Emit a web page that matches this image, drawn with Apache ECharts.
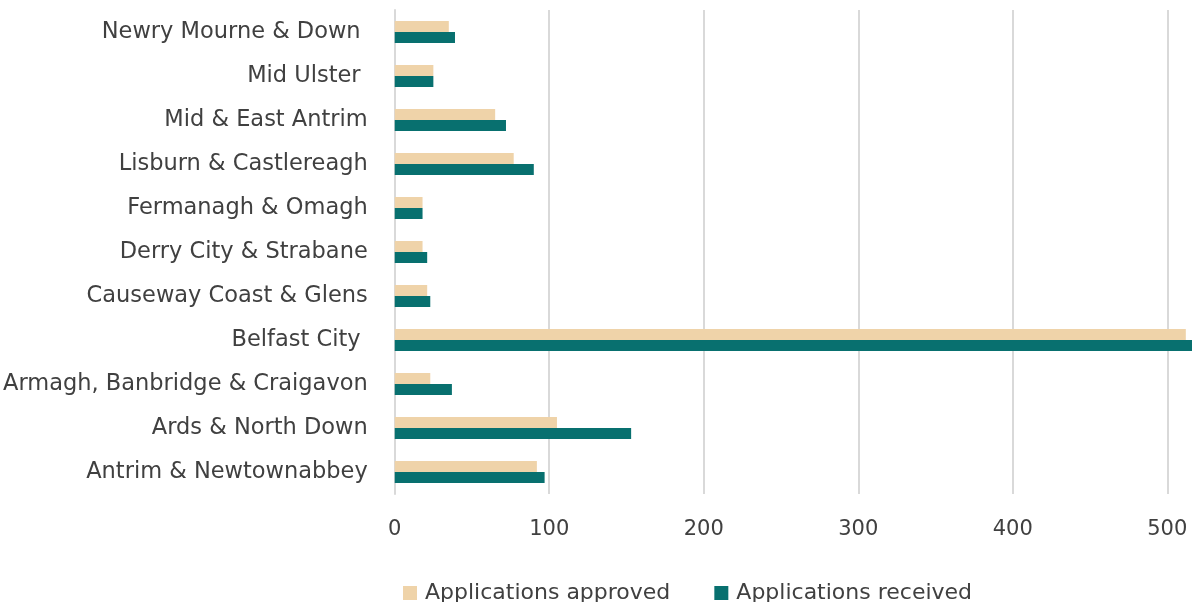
<!DOCTYPE html>
<html><head><meta charset="utf-8">
<script src="https://cdn.jsdelivr.net/npm/echarts@6/dist/echarts.min.js"></script>
<style>html,body{margin:0;padding:0;background:#fff}#c{width:1192px;height:602px}</style>
</head><body><div id="c"></div>
<script>
const categories = ["Antrim & Newtownabbey","Ards & North Down","Armagh, Banbridge & Craigavon","Belfast City ","Causeway Coast & Glens","Derry City & Strabane","Fermanagh & Omagh","Lisburn & Castlereagh","Mid & East Antrim","Mid Ulster ","Newry Mourne & Down "];
const approved = [92,105,23,512,21,18,18,77,65,25,35];
const received = [97,153,37,530,23,21,18,90,72,25,39];
const xTicks = [0,100,200,300,400,500];

const chart = echarts.init(document.getElementById('c'));
const txt = '#404040';
const font = '"DejaVu Sans", sans-serif';
chart.setOption({
  animation:false,
  textStyle:{fontFamily:font},
  legend:{
    data:['Applications approved','Applications received'],
    left:398, top:577, itemWidth:14, itemHeight:14, itemGap:44,
    icon:'rect',
    textStyle:{color:txt,fontSize:22,fontFamily:font,padding:[0,0,0,3]}
  },
  grid:{left:394, right:0, top:10, bottom:108, containLabel:false},
  xAxis:{
    type:'value', min:xTicks[0], max:516, interval:100,
    axisLine:{show:false}, axisTick:{show:false},
    splitLine:{show:true, showMaxLine:false, lineStyle:{color:'#d9d9d9', width:2}},
    axisLabel:{color:txt, fontSize:21, margin:25, fontFamily:font, showMaxLabel:false,
      formatter:function(v){return xTicks.indexOf(v)>=0?String(v):'';}}
  },
  yAxis:{
    type:'category', data:categories,
    axisLine:{show:true, lineStyle:{color:'#d9d9d9', width:2}},
    axisTick:{show:false},
    axisLabel:{color:txt, fontSize:22.5, margin:27, fontFamily:font}
  },
  series:[
    {name:'Applications approved', type:'bar', data:approved, barGap:'0%', barCategoryGap:'50%',
     itemStyle:{color:'#EFD3A9'}},
    {name:'Applications received', type:'bar', data:received, barGap:'0%', barCategoryGap:'50%',
     itemStyle:{color:'#08706F'}}
  ]
});
</script></body></html>
